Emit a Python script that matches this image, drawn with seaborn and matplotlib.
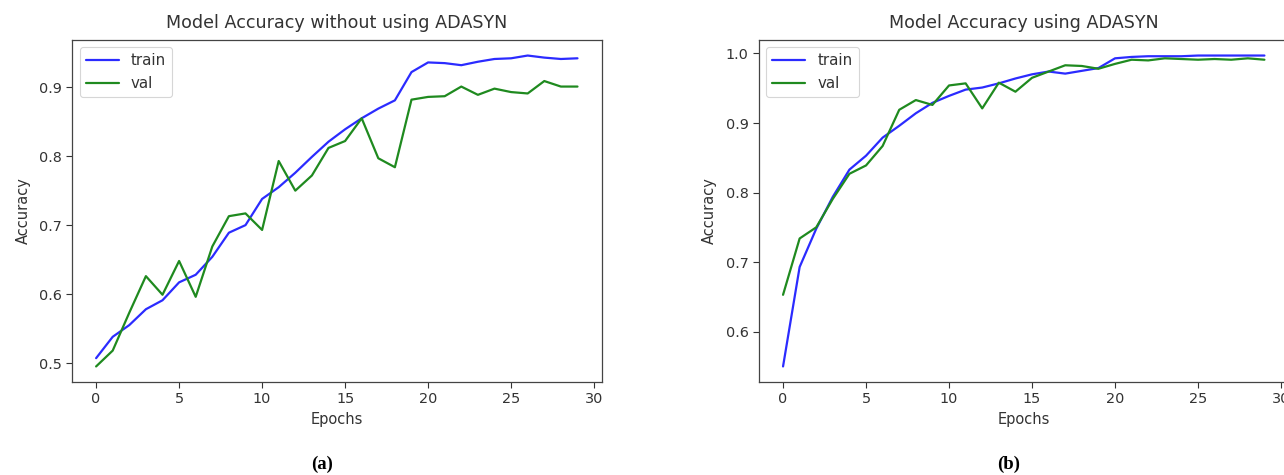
import numpy as np
import pandas as pd
import matplotlib
matplotlib.use("Agg")
import matplotlib.pyplot as plt
import seaborn as sns

# ======= Data =======
epochs = list(range(30))

train_no_adasyn = [0.507, 0.538, 0.555, 0.578, 0.591, 0.617, 0.628, 0.654, 0.689, 0.700,
                   0.738, 0.755, 0.776, 0.799, 0.821, 0.839, 0.855, 0.869, 0.881, 0.922,
                   0.936, 0.935, 0.932, 0.937, 0.941, 0.942, 0.946, 0.943, 0.941, 0.942]
val_no_adasyn = [0.495, 0.518, 0.573, 0.626, 0.599, 0.648, 0.596, 0.669, 0.713, 0.717,
                 0.693, 0.793, 0.750, 0.772, 0.812, 0.822, 0.855, 0.797, 0.784, 0.882,
                 0.886, 0.887, 0.901, 0.889, 0.898, 0.893, 0.891, 0.909, 0.901, 0.901]

train_adasyn = [0.550, 0.693, 0.748, 0.794, 0.833, 0.853, 0.879, 0.896, 0.914, 0.929,
                0.939, 0.948, 0.951, 0.957, 0.964, 0.970, 0.974, 0.971, 0.975, 0.979,
                0.993, 0.995, 0.996, 0.996, 0.996, 0.997, 0.997, 0.997, 0.997, 0.997]
val_adasyn = [0.653, 0.734, 0.750, 0.791, 0.827, 0.839, 0.867, 0.919, 0.933, 0.926,
              0.954, 0.957, 0.921, 0.958, 0.945, 0.965, 0.974, 0.983, 0.982, 0.978,
              0.985, 0.991, 0.990, 0.993, 0.992, 0.991, 0.992, 0.991, 0.993, 0.991]

titles = ["Model Accuracy without using ADASYN", "Model Accuracy using ADASYN"]
captions = ["(a)", "(b)"]
series_names = ["train", "val"]
line_colors = {"train": "#2b2bff", "val": "#1f8a1f"}

# ======= Style =======
sns.set_theme(style="ticks")
plt.rcParams['font.family'] = ['DejaVu Sans']
plt.rcParams['text.color'] = '#333333'
plt.rcParams['axes.labelcolor'] = '#333333'
plt.rcParams['xtick.color'] = '#333333'
plt.rcParams['ytick.color'] = '#333333'
plt.rcParams['axes.edgecolor'] = '#444444'

fig = plt.figure(figsize=(12.84, 4.75), dpi=100)
ax_a = fig.add_axes([0.0561, 0.1958, 0.4124, 0.72])
ax_b = fig.add_axes([0.5911, 0.1958, 0.4124, 0.72])

panels = [
    (ax_a, train_no_adasyn, val_no_adasyn),
    (ax_b, train_adasyn, val_adasyn),
]

for i, (ax, tr, va) in enumerate(panels):
    df = pd.DataFrame({
        "Epochs": epochs * 2,
        "Accuracy": tr + va,
        "series": ["train"] * len(tr) + ["val"] * len(va),
    })
    sns.lineplot(data=df, x="Epochs", y="Accuracy", hue="series",
                 hue_order=series_names, palette=line_colors,
                 linewidth=1.6, ax=ax)
    ax.set_title(titles[i], fontsize=12.6, pad=8.5)
    ax.set_xlabel("Epochs", fontsize=10.5)
    ax.set_ylabel("Accuracy", fontsize=10.5, labelpad=6)
    ax.tick_params(labelsize=10.4, length=4, width=0.8)
    ax.set_xticks([0, 5, 10, 15, 20, 25, 30])
    for s in ax.spines.values():
        s.set_visible(True)
        s.set_linewidth(0.9)
    leg = ax.legend(loc="upper left", fontsize=10.8, frameon=True, fancybox=True,
                    framealpha=0.8, edgecolor="#cccccc", handlelength=2.2)
    leg.get_frame().set_linewidth(0.8)

fig.text(322 / 1284, 1 - 464 / 475, captions[0], ha="center", va="center",
         fontsize=13.5, fontweight="bold", family=["Liberation Serif"], color="black")
fig.text(1009 / 1284, 1 - 464 / 475, captions[1], ha="center", va="center",
         fontsize=13.5, fontweight="bold", family=["Liberation Serif"], color="black")

fig.savefig("out.png", dpi=100)
